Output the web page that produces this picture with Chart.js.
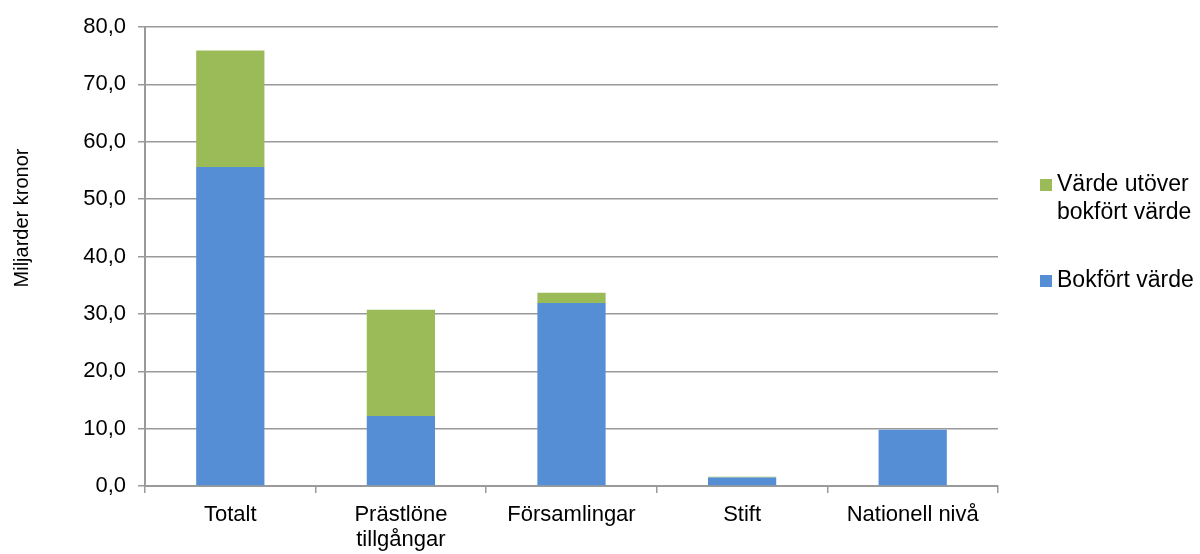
<!DOCTYPE html>
<html>
<head>
<meta charset="utf-8">
<script src="https://cdn.jsdelivr.net/npm/chart.js@4.4.1/dist/chart.umd.min.js"></script>
<style>
  html, body { margin: 0; padding: 0; background: #fff; }
  #wrap { width: 1200px; height: 554px; }
</style>
</head>
<body>
<div id="wrap"><canvas id="chart"></canvas></div>
<script>
// Kategorier och värden (miljarder kronor)
const kategorier = ["Totalt", ["Prästlöne", "tillgångar"], "Församlingar", "Stift", "Nationell nivå"];
const bokfortVarde = [55.6, 12.2, 31.9, 1.5, 9.8];
const vardeUtover = [20.3, 18.5, 1.8, 0.1, 0];
const yTicks = [0, 10, 20, 30, 40, 50, 60, 70, 80];

const FONT = "'Liberation Sans', Arial, sans-serif";
const BLUE = "#558ED5";
const GREEN = "#9BBB59";
const GRID = "#9a9a9a";

// Axeltitel och legend ritas för hand så att de hamnar som i originalet
const extras = {
  id: "extras",
  afterDraw(chart) {
    const ctx = chart.ctx;
    ctx.save();
    ctx.fillStyle = "#000";
    ctx.textBaseline = "middle";

    // y-axelns titel
    ctx.save();
    ctx.font = "20px " + FONT;
    ctx.translate(22, 218);
    ctx.rotate(-Math.PI / 2);
    ctx.textAlign = "center";
    ctx.fillText("Miljarder kronor", 0, 0);
    ctx.restore();

    // legend
    ctx.font = "23px " + FONT;
    ctx.textAlign = "left";
    const items = [
      { color: GREEN, lines: ["Värde utöver", "bokfört värde"], y: 185 },
      { color: BLUE, lines: ["Bokfört värde"], y: 281 },
    ];
    items.forEach((it) => {
      ctx.fillStyle = it.color;
      ctx.fillRect(1040, it.y - 6, 12, 12);
      ctx.fillStyle = "#000";
      it.lines.forEach((t, i) => ctx.fillText(t, 1057, it.y + i * 28));
    });
    ctx.restore();
  },
};

new Chart(document.getElementById("chart"), {
  type: "bar",
  data: {
    labels: kategorier,
    datasets: [
      {
        label: "Bokfört värde",
        data: bokfortVarde,
        backgroundColor: BLUE,
        barPercentage: 0.4,
        categoryPercentage: 1,
      },
      {
        label: "Värde utöver bokfört värde",
        data: vardeUtover,
        backgroundColor: GREEN,
        barPercentage: 0.4,
        categoryPercentage: 1,
      },
    ],
  },
  options: {
    responsive: true,
    maintainAspectRatio: false,
    animation: false,
    layout: { padding: { left: 0, right: 202, top: 27, bottom: 0 } },
    plugins: {
      legend: { display: false },
      tooltip: { enabled: false },
    },
    scales: {
      x: {
        stacked: true,
        offset: true,
        afterFit: (s) => { s.height = 68; },
        grid: {
          offset: true,
          drawOnChartArea: false,
          color: GRID,
          lineWidth: 1.5,
          tickLength: 7,
        },
        border: { color: GRID, width: 2 },
        ticks: {
          color: "#000",
          font: { family: FONT, size: 22, lineHeight: 1.15 },
          padding: 9,
          maxRotation: 0,
        },
      },
      y: {
        stacked: true,
        min: 0,
        max: 80,
        afterFit: (s) => { s.width = 145; },
        afterBuildTicks: (s) => { s.ticks = yTicks.map((v) => ({ value: v })); },
        grid: {
          color: GRID,
          lineWidth: 1.5,
          tickLength: 7,
        },
        border: { color: GRID, width: 2 },
        ticks: {
          color: "#000",
          font: { family: FONT, size: 22 },
          padding: 12,
          callback: (v) => v.toFixed(1).replace(".", ","),
        },
      },
    },
  },
  plugins: [extras],
});
</script>
</body>
</html>
